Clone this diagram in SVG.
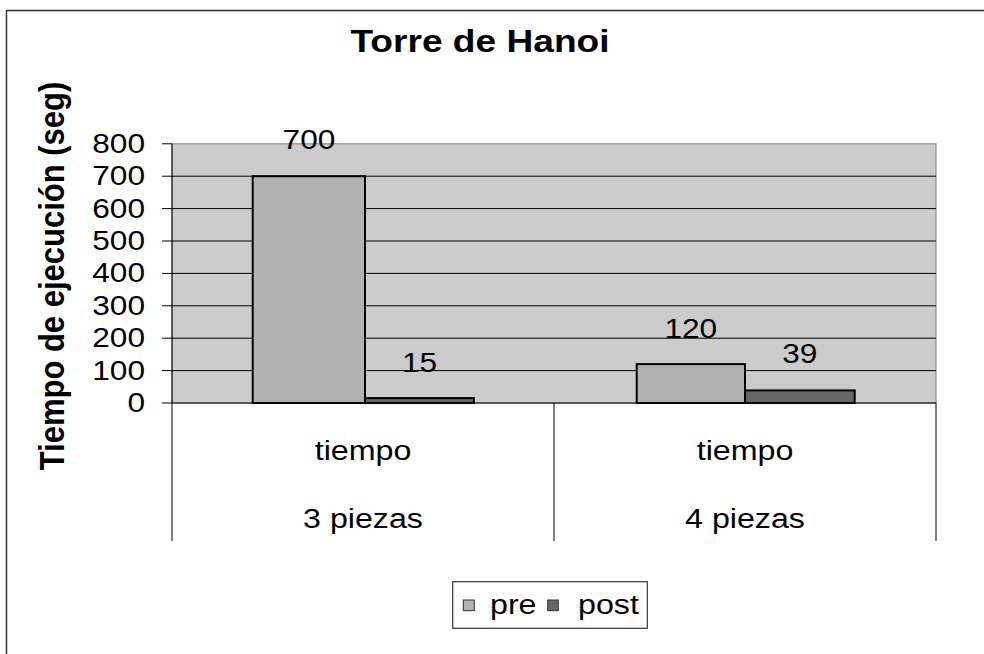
<svg xmlns="http://www.w3.org/2000/svg" width="984" height="654" viewBox="0 0 984 654">
<style>
.t{font-family:"Liberation Sans",Arial,sans-serif;font-size:28px;fill:#000}
.b{font-weight:bold}
.grid{stroke:#000;stroke-width:1}
.ax{stroke:#000;stroke-width:1;fill:none}
.pre{fill:#B2B2B2;stroke:#000;stroke-width:2}
.post{fill:#666;stroke:#000;stroke-width:2}
</style>
<rect width="984" height="654" fill="#fff"/>
<path d="M6.5 654 V10.5 H990" fill="none" stroke="#333" stroke-width="1.5"/>
<g id="title">
<text class="t b" style="font-size:32px" text-anchor="middle" transform="translate(480,52) scale(1.16,1)">Torre de Hanoi</text>
</g>
<g id="plot">
<rect x="172" y="143.8" width="764" height="259.2" fill="#CCCCCC" stroke="#808080" stroke-width="1"/>
<g class="grid">
<line x1="172" y1="176.2" x2="936" y2="176.2"/>
<line x1="172" y1="208.6" x2="936" y2="208.6"/>
<line x1="172" y1="241" x2="936" y2="241"/>
<line x1="172" y1="273.4" x2="936" y2="273.4"/>
<line x1="172" y1="305.8" x2="936" y2="305.8"/>
<line x1="172" y1="338.2" x2="936" y2="338.2"/>
<line x1="172" y1="370.6" x2="936" y2="370.6"/>
</g>
</g>
<g id="bars">
<rect class="pre" x="252.7" y="176.2" width="112.3" height="226.8"/>
<rect class="post" x="365" y="398.1" width="109" height="4.9"/>
<rect class="pre" x="636.7" y="364.1" width="108.3" height="38.9"/>
<rect class="post" x="745" y="390.4" width="109.7" height="12.6"/>
</g>
<g id="axes" class="ax">
<line x1="172" y1="143.8" x2="172" y2="541"/>
<line x1="554" y1="403" x2="554" y2="541"/>
<line x1="936" y1="403" x2="936" y2="541"/>
<line x1="162" y1="403" x2="936" y2="403"/>
<line x1="162" y1="143.8" x2="172" y2="143.8"/>
<line x1="162" y1="176.2" x2="172" y2="176.2"/>
<line x1="162" y1="208.6" x2="172" y2="208.6"/>
<line x1="162" y1="241" x2="172" y2="241"/>
<line x1="162" y1="273.4" x2="172" y2="273.4"/>
<line x1="162" y1="305.8" x2="172" y2="305.8"/>
<line x1="162" y1="338.2" x2="172" y2="338.2"/>
<line x1="162" y1="370.6" x2="172" y2="370.6"/>
</g>
<g id="ylabels" text-anchor="end">
<text class="t" transform="translate(145,152.8) scale(1.13,1)">800</text>
<text class="t" transform="translate(145,185.2) scale(1.13,1)">700</text>
<text class="t" transform="translate(145,217.6) scale(1.13,1)">600</text>
<text class="t" transform="translate(145,250) scale(1.13,1)">500</text>
<text class="t" transform="translate(145,282.4) scale(1.13,1)">400</text>
<text class="t" transform="translate(145,314.8) scale(1.13,1)">300</text>
<text class="t" transform="translate(145,347.2) scale(1.13,1)">200</text>
<text class="t" transform="translate(145,379.6) scale(1.13,1)">100</text>
<text class="t" transform="translate(145,412) scale(1.13,1)">0</text>
</g>
<g id="ytitle">
<text class="t b" style="font-size:31px" text-anchor="middle" transform="translate(64,276) scale(1.15,1) rotate(-90)">Tiempo de ejecución (seg)</text>
</g>
<g id="datalabels" text-anchor="middle">
<text class="t" transform="translate(309,148.5) scale(1.13,1)">700</text>
<text class="t" transform="translate(419.5,371.5) scale(1.13,1)">15</text>
<text class="t" transform="translate(690.8,338) scale(1.13,1)">120</text>
<text class="t" transform="translate(799.8,363.3) scale(1.13,1)">39</text>
</g>
<g id="categories" text-anchor="middle">
<text class="t" transform="translate(363,460) scale(1.15,1)">tiempo</text>
<text class="t" transform="translate(363,528) scale(1.15,1)">3 piezas</text>
<text class="t" transform="translate(745,460) scale(1.15,1)">tiempo</text>
<text class="t" transform="translate(745,528) scale(1.15,1)">4 piezas</text>
</g>
<g id="legend">
<rect x="452.7" y="581.7" width="194.6" height="46.6" fill="#fff" stroke="#333" stroke-width="1.2"/>
<rect x="463.3" y="600" width="11" height="10.7" fill="#B2B2B2" stroke="#333" stroke-width="1"/>
<text class="t" transform="translate(490,614) scale(1.15,1)">pre</text>
<rect x="547.7" y="600" width="10.6" height="10.7" fill="#666" stroke="#333" stroke-width="1"/>
<text class="t" transform="translate(578,614) scale(1.15,1)">post</text>
</g>
</svg>
